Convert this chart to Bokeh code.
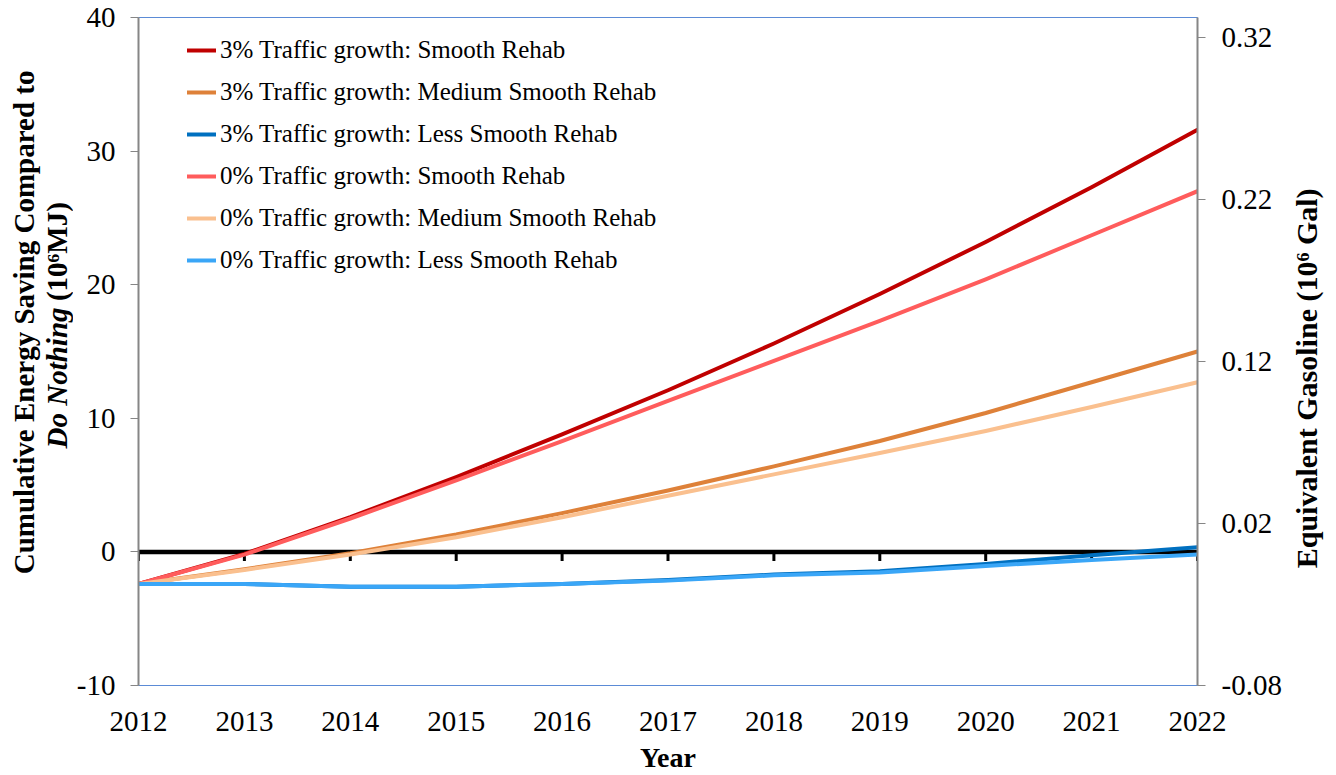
import math
from bokeh.plotting import figure
from bokeh.layouts import row
from bokeh.models import Range1d, LinearAxis, FixedTicker, Label, Legend, LegendItem, Span
from bokeh.embed import file_html
from bokeh.resources import INLINE

# ---------------- data ----------------
years = [2012, 2013, 2014, 2015, 2016, 2017, 2018, 2019, 2020, 2021, 2022]
year_labels = [str(y) for y in years]

g3_smooth = [-2.4, -0.15, 2.6, 5.6, 8.8, 12.1, 15.6, 19.3, 23.2, 27.3, 31.6]
g3_medium = [-2.4, -1.3, -0.1, 1.3, 2.9, 4.6, 6.4, 8.3, 10.4, 12.7, 15.0]
g3_less = [-2.4, -2.4, -2.6, -2.6, -2.4, -2.1, -1.7, -1.45, -0.9, -0.25, 0.35]
g0_smooth = [-2.4, -0.2, 2.5, 5.35, 8.3, 11.3, 14.3, 17.3, 20.4, 23.7, 27.0]
g0_medium = [-2.4, -1.35, -0.2, 1.1, 2.6, 4.2, 5.8, 7.4, 9.05, 10.85, 12.7]
g0_less = [-2.4, -2.4, -2.6, -2.6, -2.4, -2.15, -1.75, -1.55, -1.05, -0.6, -0.2]

series_names = [
    "3% Traffic growth: Smooth Rehab",
    "3% Traffic growth: Medium Smooth Rehab",
    "3% Traffic growth: Less Smooth Rehab",
    "0% Traffic growth: Smooth Rehab",
    "0% Traffic growth: Medium Smooth Rehab",
    "0% Traffic growth: Less Smooth Rehab",
]
series_values = [g3_smooth, g3_medium, g3_less, g0_smooth, g0_medium, g0_less]
series_colors = ["#C00000", "#DE8139", "#0070C0", "#FF5C5C", "#FAC08F", "#3AA6F7"]

left_ticks = [-10, 0, 10, 20, 30, 40]
left_tick_labels = ["-10", "0", "10", "20", "30", "40"]
right_ticks = [-0.08, 0.02, 0.12, 0.22, 0.32]
right_tick_labels = ["-0.08", "0.02", "0.12", "0.22", "0.32"]
MJ_PER_GAL = 121.3

Y_MIN, Y_MAX = -10, 40

x_title = "Year"
left_title_1 = "Cumulative Energy Saving Compared to"
left_title_2a = "Do Nothing"
left_title_2b = "(10\u2076MJ)"
right_title = "Equivalent Gasoline (10\u2076 Gal)"

FONT = "Liberation Serif"

# ---------------- layout sizes ----------------
TOTAL_W, H = 1336, 775
LEFT_W = 73
RIGHT_X = 1285
FRAME_L, FRAME_R, FRAME_T, FRAME_B = 137, 1197, 17, 686
MAIN_W = RIGHT_X - LEFT_W
RIGHT_W = TOTAL_W - RIGHT_X


def side_fig(x0, w):
    f = figure(width=w, height=H, x_range=Range1d(x0, x0 + w), y_range=Range1d(H, 0),
               x_axis_location=None, y_axis_location=None,
               output_backend="svg", toolbar_location=None,
               min_border_left=0, min_border_right=0, min_border_top=0, min_border_bottom=0)
    f.xgrid.visible = False
    f.ygrid.visible = False
    f.outline_line_color = None
    f.background_fill_color = "white"
    f.border_fill_color = "white"
    return f


def add_text(f, text, x, y, angle=0.0, align="center", style="bold", size="29px"):
    f.add_layout(Label(x=x, y=y, text=text, angle=angle,
                       text_align=align, text_baseline="middle",
                       text_font=FONT, text_font_style=style,
                       text_font_size=size, text_color="black"))


# ---------------- main figure ----------------
p = figure(width=MAIN_W, height=H,
           x_range=Range1d(years[0], years[-1]),
           y_range=Range1d(Y_MIN, Y_MAX),
           output_backend="svg", toolbar_location=None,
           min_border_left=FRAME_L - LEFT_W, min_border_right=RIGHT_X - FRAME_R,
           min_border_top=FRAME_T, min_border_bottom=H - FRAME_B)
p.xgrid.visible = False
p.ygrid.visible = False
p.outline_line_color = "#5B8BD6"
p.outline_line_width = 1
p.background_fill_color = "white"
p.border_fill_color = "white"

# bottom axis
xa = p.xaxis[0]
xa.ticker = FixedTicker(ticks=years)
xa.major_label_overrides = dict(zip(years, year_labels))
xa.major_tick_line_color = None
xa.minor_tick_line_color = None
xa.axis_line_color = "#5B8BD6"
xa.axis_line_width = 1
xa.major_label_text_font = FONT
xa.major_label_text_font_size = "29px"
xa.major_label_text_color = "black"
xa.major_label_standoff = 20
xa.axis_label = x_title
xa.axis_label_text_font = FONT
xa.axis_label_text_font_style = "bold"
xa.axis_label_text_font_size = "28px"
xa.axis_label_text_color = "black"
xa.axis_label_standoff = 8

# left axis
ya = p.yaxis[0]
ya.ticker = FixedTicker(ticks=left_ticks)
ya.major_label_overrides = dict(zip(left_ticks, left_tick_labels))
ya.axis_line_color = "#868686"
ya.axis_line_width = 2
ya.major_tick_line_color = "#868686"
ya.major_tick_out = 8
ya.major_tick_in = 0
ya.minor_tick_line_color = None
ya.major_label_text_font = FONT
ya.major_label_text_font_size = "29px"
ya.major_label_text_color = "black"
ya.major_label_standoff = 15

# right axis (gasoline equivalent)
p.extra_y_ranges = {"gal": Range1d(right_ticks[0], right_ticks[0] + (Y_MAX - Y_MIN) / MJ_PER_GAL)}
ra = LinearAxis(y_range_name="gal", ticker=FixedTicker(ticks=right_ticks),
                major_label_overrides=dict(zip(right_ticks, right_tick_labels)))
ra.axis_line_color = "#868686"
ra.axis_line_width = 2
ra.major_tick_line_color = "#868686"
ra.major_tick_out = 8
ra.major_tick_in = 0
ra.minor_tick_line_color = None
ra.major_label_text_font = FONT
ra.major_label_text_font_size = "29px"
ra.major_label_text_color = "black"
ra.major_label_standoff = 16
p.add_layout(ra, "right")

# zero (category) axis line with its tick marks
p.add_layout(Span(location=0, dimension="width", line_color="black", line_width=4.5, level="underlay"))
tick_len = 9 * (Y_MAX - Y_MIN) / (FRAME_B - FRAME_T)
p.segment(x0=years, y0=[0] * len(years), x1=years, y1=[-tick_len] * len(years),
          line_color="black", line_width=3)

# series
items = []
for name, vals, col in zip(series_names, series_values, series_colors):
    r = p.line(years, vals, line_color=col, line_width=4, line_join="round", line_cap="round")
    items.append(LegendItem(label=name, renderers=[r]))

legend = Legend(items=items, location=(49, 411))
legend.border_line_color = None
legend.background_fill_alpha = 0
legend.padding = 0
legend.margin = 0
legend.spacing = 14
legend.label_height = 28
legend.glyph_height = 28
legend.glyph_width = 29
legend.label_standoff = 4
legend.label_text_font = FONT
legend.label_text_font_size = "25px"
legend.label_text_color = "black"
p.add_layout(legend)

# ---------------- side panels with the vertical titles ----------------
# (anchors include a measured correction for how rotated labels are laid out)
lf = side_fig(0, LEFT_W)
add_text(lf, left_title_1, 23.5, 646, angle=math.pi / 2, align="left")
add_text(lf, left_title_2a, 56, 500, angle=math.pi / 2, align="left", style="bold italic")
add_text(lf, left_title_2b, 56, 329, angle=math.pi / 2, align="left")

rf = side_fig(RIGHT_X, RIGHT_W)
add_text(rf, right_title, 1306, 639, angle=math.pi / 2, align="left", size="30px")

layout = row(lf, p, rf)
layout.spacing = 0

open("out.html", "w").write(file_html(layout, INLINE))
